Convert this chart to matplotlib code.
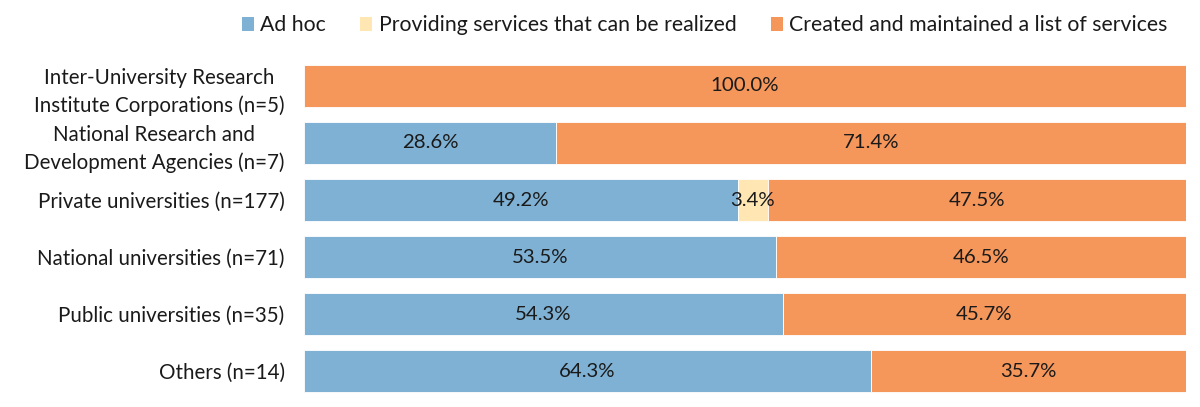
import numpy as np
import matplotlib.pyplot as plt
from matplotlib.patches import Patch

plt.rcParams['font.family'] = ['Lato', 'DejaVu Sans']

categories = [
    "Inter-University Research\nInstitute Corporations (n=5)",
    "National Research and\nDevelopment Agencies (n=7)",
    "Private universities (n=177)",
    "National universities (n=71)",
    "Public universities (n=35)",
    "Others (n=14)",
]
series_names = ["Ad hoc", "Providing services that can be realized",
                "Created and maintained a list of services"]
ad_hoc = [0.0, 28.6, 49.2, 53.5, 54.3, 64.3]
realizable = [0.0, 0.0, 3.4, 0.0, 0.0, 0.0]
listed = [100.0, 71.4, 47.5, 46.5, 45.7, 35.7]

colors = ["#7FB1D4", "#FFE6B2", "#F5965B"]

fig = plt.figure(figsize=(12, 4.07), dpi=100)
ax = fig.add_axes([0.2533, 0.018, 0.7347, 0.841])

y = np.arange(len(categories))
left = np.zeros(len(categories))
for name, vals, col in zip(series_names, [ad_hoc, realizable, listed], colors):
    vals = np.array(vals)
    ax.barh(y, vals, left=left, height=0.74, color=col, edgecolor="white",
            linewidth=0.6, label=name)
    for yi, l, v in zip(y, left, vals):
        if v > 0:
            ax.text(l + v / 2, yi, f"{v:.1f}%", ha="center", va="center",
                    fontsize=14.7, color="#1a1a1a")
    left += vals

ax.set_xlim(0, 100)
ax.set_ylim(len(categories) - 0.5, -0.5)
ax.set_yticks(y)
ax.set_yticklabels(categories, fontsize=14.8, color="#1a1a1a")
for t in ax.get_yticklabels():
    t.set_multialignment("center")
    t.set_linespacing(1.45)
ax.tick_params(axis="y", length=0, pad=14)
ax.set_xticks([])
for s in ax.spines.values():
    s.set_visible(False)

handles = [Patch(facecolor=c, edgecolor="none") for c in colors]
fig.legend(handles, series_names, loc="upper right", ncol=3, frameon=False,
           bbox_to_anchor=(0.973, 0.962), fontsize=15.3, handlelength=0.58,
           handleheight=0.58, handletextpad=0.3, columnspacing=1.6,
           borderpad=0, borderaxespad=0, labelcolor="#1a1a1a")

fig.savefig("out.png", dpi=100)
